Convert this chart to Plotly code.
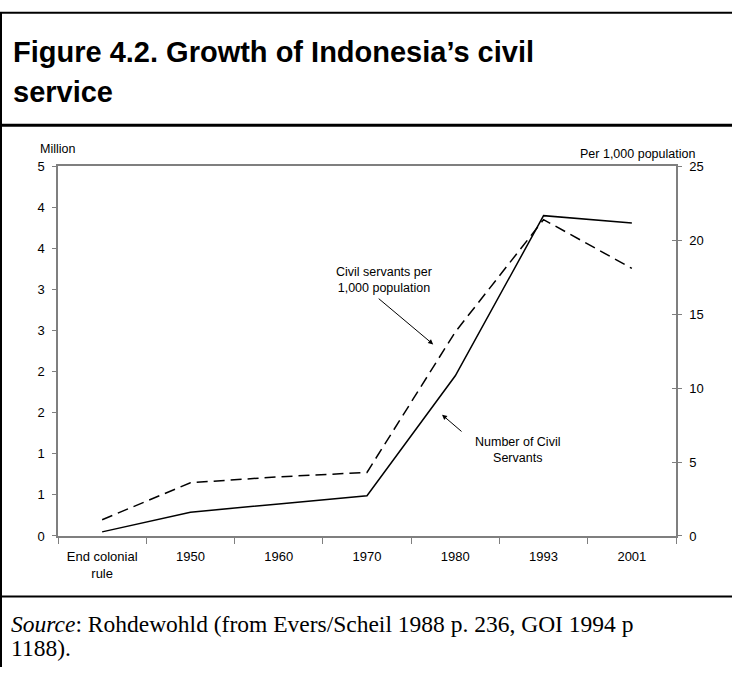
import plotly.graph_objects as go

# ---- data -------------------------------------------------------------
periods = ["End colonial<br>rule", "1950", "1960", "1970", "1980", "1993", "2001"]
civil_servants_million = [0.05, 0.29, 0.39, 0.49, 1.95, 3.90, 3.81]
per_1000_population = [1.1, 3.6, 4.0, 4.3, 13.8, 21.4, 18.1]

left_tick_values = [0, 0.5, 1, 1.5, 2, 2.5, 3, 3.5, 4, 4.5]
left_tick_labels = ["0", "1", "1", "2", "2", "3", "3", "4", "4", "5"]
right_tick_values = [0, 5, 10, 15, 20, 25]

W, H = 732, 675
PLOT_L, PLOT_R, PLOT_T, PLOT_B = 58, 676, 163, 541


def px(x):
    return x / W


def py(y):
    return 1 - y / H


AXIS_GREY = "#7f7f7f"
SANS = "Liberation Sans, Arial, sans-serif"
SERIF = "Liberation Serif, Times New Roman, serif"

fig = go.Figure()

fig.add_trace(go.Scatter(
    x=periods, y=civil_servants_million, mode="lines",
    line=dict(color="black", width=1.5), yaxis="y", name="Number of Civil Servants",
    hoverinfo="skip"))
fig.add_trace(go.Scatter(
    x=periods, y=per_1000_population, mode="lines",
    line=dict(color="black", width=1.5, dash="11px,6px"), yaxis="y2",
    name="Civil servants per 1,000 population", hoverinfo="skip"))
# carrier for the inner half of the right-axis cross ticks
fig.add_trace(go.Scatter(
    x=periods, y=per_1000_population, mode="lines", opacity=0,
    yaxis="y3", showlegend=False, hoverinfo="skip"))

tickfont = dict(family=SANS, size=13, color="black")

fig.update_layout(
    width=W, height=H,
    margin=dict(l=0, r=0, t=0, b=0),
    paper_bgcolor="white", plot_bgcolor="white",
    showlegend=False,
    xaxis=dict(
        domain=[px(PLOT_L), px(PLOT_R)],
        type="category", range=[-0.5, len(periods) - 0.5],
        showline=True, linecolor=AXIS_GREY, linewidth=1.5, mirror=True,
        ticks="outside", tickson="boundaries", ticklen=6, tickcolor=AXIS_GREY,
        showgrid=False, tickfont=tickfont, tickangle=0, ticklabelstandoff=8,
        anchor="y",
    ),
    yaxis=dict(
        domain=[py(PLOT_B), py(PLOT_T)],
        range=[0, 4.5], tickvals=left_tick_values, ticktext=left_tick_labels,
        showline=True, linecolor=AXIS_GREY, linewidth=1.5,
        ticks="outside", ticklen=4, tickcolor=AXIS_GREY, ticklabelstandoff=5,
        showgrid=False, zeroline=False, tickfont=tickfont,
        anchor="x",
    ),
    yaxis2=dict(
        overlaying="y", side="right", anchor="x",
        range=[0, 25], tickvals=right_tick_values,
        showline=True, linecolor=AXIS_GREY, linewidth=1.5,
        ticks="outside", ticklen=4, tickcolor=AXIS_GREY, ticklabelstandoff=5,
        showgrid=False, zeroline=False, tickfont=tickfont,
    ),
    yaxis3=dict(
        overlaying="y", side="right", anchor="x",
        range=[0, 25], tickvals=right_tick_values,
        showline=False, ticks="inside", ticklen=4, tickcolor=AXIS_GREY,
        showticklabels=False, showgrid=False, zeroline=False,
    ),
)

# ---- frame ------------------------------------------------------------
frame = [
    (0, 6, W, 6, 2),        # top edge
    (1, 6, 1, H, 2),        # left edge
    (0, 121, W, 121, 3),    # under the heading
    (0, 603, W, 603, 2),    # above the source note
]
for x0, y0, x1, y1, w in frame:
    fig.add_shape(type="line", xref="paper", yref="paper",
                  x0=px(x0), y0=py(y0), x1=px(x1), y1=py(y1),
                  line=dict(color="black", width=w))

# ---- heading, axis titles, source -------------------------------------
heading_lines = [("Figure 4.2. Growth of Indonesia’s civil", 46), ("service", 87)]
for text, y in heading_lines:
    fig.add_annotation(
        xref="paper", yref="paper", x=px(11), y=py(y), xanchor="left", yanchor="middle",
        text=f"<b>{text}</b>", showarrow=False,
        font=dict(family=SANS, size=29, color="black"))

fig.add_annotation(
    xref="paper", yref="paper", x=px(38), y=py(145), xanchor="left", yanchor="middle",
    text="Million", showarrow=False, font=dict(family=SANS, size=12.5, color="black"))
fig.add_annotation(
    xref="paper", yref="paper", x=px(697), y=py(150), xanchor="right", yanchor="middle",
    text="Per 1,000 population", showarrow=False,
    font=dict(family=SANS, size=12.5, color="black"))

source_lines = [("<i>Source</i>: Rohdewohld (from Evers/Scheil 1988 p. 236, GOI 1994 p", 631),
                ("1188).", 656)]
for text, y in source_lines:
    fig.add_annotation(
        xref="paper", yref="paper", x=px(9), y=py(y), xanchor="left", yanchor="middle",
        text=text, showarrow=False,
        font=dict(family=SERIF, size=23.5, color="black"))

# ---- series callouts --------------------------------------------------
fig.add_annotation(
    xref="x", yref="y2", x=3.19, y=17.33,
    text="Civil servants per<br>1,000 population", showarrow=False,
    font=dict(family=SANS, size=12.5, color="black"))
fig.add_annotation(
    xref="x", yref="y2", x=3.75, y=12.96, ax=-56, ay=-47,
    text=" ", showarrow=True, arrowhead=2, arrowsize=1, arrowwidth=1,
    arrowcolor="black", font=dict(size=1))

fig.add_annotation(
    xref="x", yref="y", x=4.70, y=1.05,
    text="Number of Civil<br>Servants", showarrow=False,
    font=dict(family=SANS, size=12.5, color="black"))
fig.add_annotation(
    xref="x", yref="y", x=3.85, y=1.476, ax=21, ay=18,
    text=" ", showarrow=True, arrowhead=2, arrowsize=1, arrowwidth=1,
    arrowcolor="black", font=dict(size=1))

fig.write_html("out.html")
